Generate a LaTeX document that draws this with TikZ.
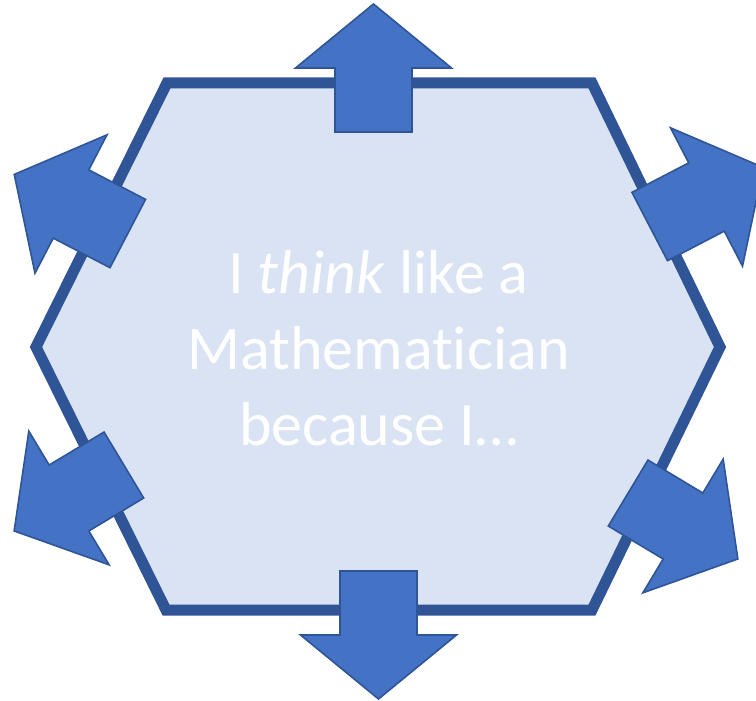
\documentclass[tikz,border=0pt]{standalone}
\usepackage{fontspec}
\setmainfont[Ligatures=NoCommon]{Carlito}
\usepackage{xcolor}
\usetikzlibrary{positioning, calc}

\definecolor{hexfill}{HTML}{DAE3F3}
\definecolor{hexline}{HTML}{2F5597}
\definecolor{arrowblue}{HTML}{4472C4}

\tikzset{
  hexagon/.style={
    draw=hexline, fill=hexfill, line width=11pt, line join=miter
  },
  arrowbody/.style={
    draw=hexline, fill=arrowblue, line width=1.6pt, line join=miter
  },
  blockarrow/.pic={
    \draw[arrowbody] (-64,-38.5) -- (0,-38.5) -- (0,-78) -- (64,0)
      -- (0,78) -- (0,38.5) -- (-64,38.5) -- cycle;
  },
  bigtext/.style={
    text=white, align=center, inner sep=0pt,
    font=\fontsize{62}{76}\selectfont
  }
}

\begin{document}
\begin{tikzpicture}[x=1pt, y=-1pt]
  \useasboundingbox (0,0) rectangle (756,701);

  % hexagon
  \coordinate (tl) at (167,83);
  \coordinate (tr) at (592,83);
  \coordinate (r)  at (720,347);
  \coordinate (br) at (592,610);
  \coordinate (bl) at (166,610);
  \coordinate (l)  at (36,347);
  \draw[hexagon] (tl) -- (tr) -- (r) -- (br) -- (bl) -- (l) -- cycle;

  % arrows
  \pic[rotate=90]    at (373.5,68)  {blockarrow};
  \pic[rotate=152.5] at (71,204)    {blockarrow};
  \pic[rotate=27.5]  at (706.5,197) {blockarrow};
  \pic[rotate=211]   at (69,498)    {blockarrow};
  \pic[rotate=329]   at (683,526)   {blockarrow};
  \pic[rotate=270]   at (378.5,635) {blockarrow};

  \node[bigtext] (title) at (378.5,348)
    {I \textit{think} like a\\Mathematician\\because I…};
\end{tikzpicture}
\end{document}
